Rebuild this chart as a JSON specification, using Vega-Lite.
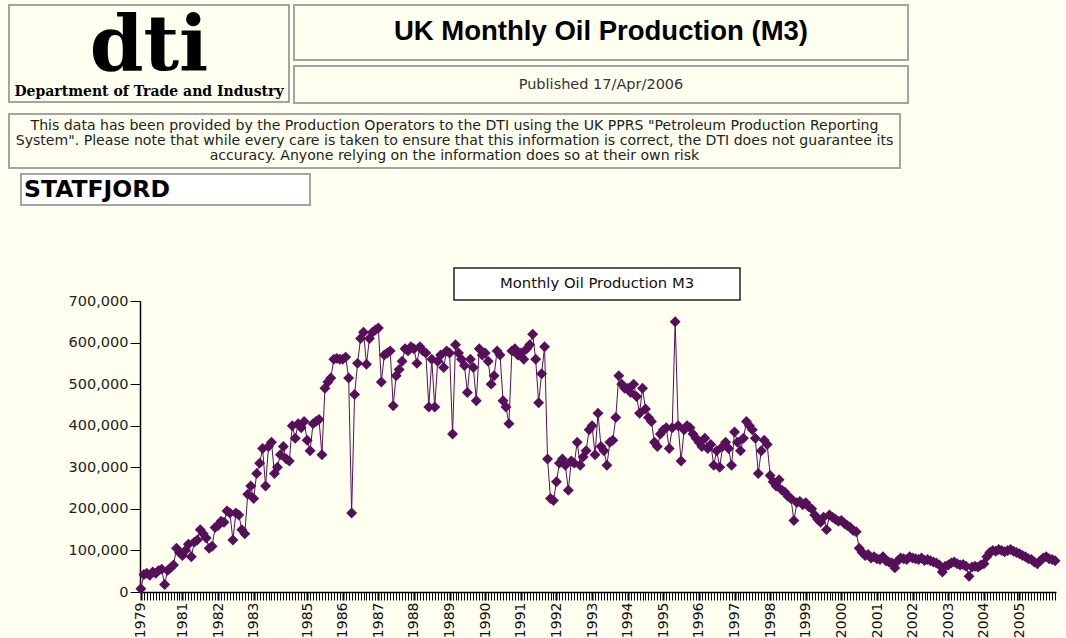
{
  "$schema": "https://vega.github.io/schema/vega-lite/v6.json",
  "background": "#FFFFF0",
  "padding": {"left": 8, "top": 4, "right": 0, "bottom": 0},
  "config": {"view": {"stroke": null}, "font": "DejaVu Sans"},
  "spacing": 0,
  "vconcat": [
    {
      "spacing": 0,
      "hconcat": [
        {
          "width": 280, "height": 97,
          "data": {"values": [{"logo": "dti", "dept": "Department of Trade and Industry"}]},
          "view": {"stroke": "#A4A4A4", "strokeWidth": 2},
          "layer": [
            {"mark": {"type": "text", "font": "DejaVu Serif", "fontWeight": "bold", "fontSize": 77, "baseline": "alphabetic", "dy": 16, "color": "#000000"}, "encoding": {"text": {"field": "logo"}}},
            {"mark": {"type": "text", "font": "DejaVu Serif", "fontWeight": "bold", "fontSize": 14, "baseline": "alphabetic", "dy": 42, "color": "#000000"}, "encoding": {"text": {"field": "dept"}}}
          ]
        },
        {"width": 3, "height": 97, "data": {"values": []}, "mark": "point"},
        {
          "spacing": 0,
          "vconcat": [
            {
              "width": 614, "height": 55,
              "data": {"values": [{"t": "UK Monthly Oil Production (M3)"}]},
              "view": {"stroke": "#A4A4A4", "strokeWidth": 2},
              "mark": {"type": "text", "font": "Liberation Sans", "fontWeight": "bold", "fontSize": 27.5, "baseline": "middle", "color": "#000000", "dy": -1},
              "encoding": {"text": {"field": "t"}}
            },
            {"width": 614, "height": 4, "data": {"values": []}, "mark": "point"},
            {
              "width": 614, "height": 37,
              "data": {"values": [{"t": "Published 17/Apr/2006"}]},
              "view": {"stroke": "#A4A4A4", "strokeWidth": 2},
              "mark": {"type": "text", "font": "DejaVu Sans", "fontSize": 14.5, "baseline": "middle", "color": "#333333"},
              "encoding": {"text": {"field": "t"}}
            }
          ]
        }
      ]
    },
    {"width": 10, "height": 9, "data": {"values": []}, "mark": "point"},
    {
      "width": 891, "height": 54,
      "data": {"values": [{"t": ["This data has been provided by the Production Operators to the DTI using the UK PPRS \"Petroleum Production Reporting", "System\".  Please note that while every care is taken to ensure that this information is correct, the DTI does not guarantee its", "accuracy.  Anyone relying on the information does so at their own risk"]}]},
      "view": {"stroke": "#A4A4A4", "strokeWidth": 2},
      "mark": {"type": "text", "font": "DejaVu Sans", "fontSize": 14.1, "lineHeight": 15, "baseline": "middle", "dy": -15, "color": "#222222"},
      "encoding": {"text": {"field": "t"}}
    },
    {"width": 10, "height": 4, "data": {"values": []}, "mark": "point"},
    {
      "spacing": 0,
      "hconcat": [
        {"width": 11, "height": 31, "data": {"values": []}, "mark": "point"},
        {
          "width": 289, "height": 31,
          "data": {"values": [{"t": "STATFJORD", "pos": 0}]},
          "view": {"stroke": "#A4A4A4", "strokeWidth": 2, "fill": "#FFFFFF"},
          "mark": {"type": "text", "font": "DejaVu Sans", "fontWeight": "bold", "fontSize": 23.5, "baseline": "middle", "align": "left", "dx": 3, "color": "#000000"},
          "encoding": {
            "text": {"field": "t"},
            "x": {"field": "pos", "type": "quantitative", "scale": {"domain": [0, 1]}, "axis": null}
          }
        }
      ]
    },
    {"width": 10, "height": 61, "data": {"values": []}, "mark": "point"},
    {
      "spacing": -8,
      "vconcat": [
        {
          "spacing": 0,
          "hconcat": [
            {"width": 444, "height": 32, "data": {"values": []}, "mark": "point"},
            {
              "width": 286, "height": 32,
              "data": {"values": [{"t": "Monthly Oil Production M3"}]},
              "view": {"stroke": "#222222", "strokeWidth": 1.5, "fill": "#FFFFFF"},
              "mark": {"type": "text", "font": "DejaVu Sans", "fontSize": 14.8, "baseline": "middle", "color": "#111111"},
              "encoding": {"text": {"field": "t"}}
            }
          ]
        },
        {
          "spacing": 0,
          "hconcat": [
            {"width": 1, "height": 291, "data": {"values": []}, "mark": "point"},
            {
              "width": 916, "height": 291,
              "data": {"values": [
                {"m": "1979-11", "v": 8000}, {"m": "1979-12", "v": 42000},
                {"m": "1980-01", "v": 45000}, {"m": "1980-02", "v": 40000}, {"m": "1980-03", "v": 48000}, {"m": "1980-04", "v": 45000}, {"m": "1980-05", "v": 52000}, {"m": "1980-06", "v": 55000}, {"m": "1980-07", "v": 18000}, {"m": "1980-08", "v": 52000}, {"m": "1980-09", "v": 58000}, {"m": "1980-10", "v": 65000}, {"m": "1980-11", "v": 105000}, {"m": "1980-12", "v": 95000},
                {"m": "1981-01", "v": 88000}, {"m": "1981-02", "v": 100000}, {"m": "1981-03", "v": 115000}, {"m": "1981-04", "v": 85000}, {"m": "1981-05", "v": 120000}, {"m": "1981-06", "v": 125000}, {"m": "1981-07", "v": 150000}, {"m": "1981-08", "v": 140000}, {"m": "1981-09", "v": 130000}, {"m": "1981-10", "v": 105000}, {"m": "1981-11", "v": 110000}, {"m": "1981-12", "v": 155000},
                {"m": "1982-01", "v": 160000}, {"m": "1982-02", "v": 170000}, {"m": "1982-03", "v": 168000}, {"m": "1982-04", "v": 195000}, {"m": "1982-05", "v": 190000}, {"m": "1982-06", "v": 125000}, {"m": "1982-07", "v": 190000}, {"m": "1982-08", "v": 185000}, {"m": "1982-09", "v": 150000}, {"m": "1982-10", "v": 140000}, {"m": "1982-11", "v": 235000}, {"m": "1982-12", "v": 255000},
                {"m": "1983-01", "v": 225000}, {"m": "1983-02", "v": 285000}, {"m": "1983-03", "v": 310000}, {"m": "1983-04", "v": 345000}, {"m": "1983-05", "v": 255000}, {"m": "1983-06", "v": 350000}, {"m": "1983-07", "v": 360000}, {"m": "1983-08", "v": 285000}, {"m": "1983-09", "v": 300000}, {"m": "1983-10", "v": 330000}, {"m": "1983-11", "v": 350000}, {"m": "1983-12", "v": 320000},
                {"m": "1984-07", "v": 315000}, {"m": "1984-08", "v": 400000}, {"m": "1984-09", "v": 370000}, {"m": "1984-10", "v": 405000}, {"m": "1984-11", "v": 395000}, {"m": "1984-12", "v": 410000},
                {"m": "1985-01", "v": 365000}, {"m": "1985-02", "v": 340000}, {"m": "1985-03", "v": 405000}, {"m": "1985-04", "v": 410000}, {"m": "1985-05", "v": 415000}, {"m": "1985-06", "v": 330000}, {"m": "1985-07", "v": 490000}, {"m": "1985-08", "v": 505000}, {"m": "1985-09", "v": 515000}, {"m": "1985-10", "v": 560000}, {"m": "1985-11", "v": 562000}, {"m": "1985-12", "v": 560000},
                {"m": "1986-01", "v": 560000}, {"m": "1986-02", "v": 565000}, {"m": "1986-03", "v": 515000}, {"m": "1986-04", "v": 190000}, {"m": "1986-05", "v": 475000}, {"m": "1986-06", "v": 550000}, {"m": "1986-07", "v": 610000}, {"m": "1986-08", "v": 625000}, {"m": "1986-09", "v": 548000}, {"m": "1986-10", "v": 610000}, {"m": "1986-11", "v": 625000}, {"m": "1986-12", "v": 630000},
                {"m": "1987-01", "v": 635000}, {"m": "1987-02", "v": 505000}, {"m": "1987-03", "v": 570000}, {"m": "1987-04", "v": 575000}, {"m": "1987-05", "v": 580000}, {"m": "1987-06", "v": 448000}, {"m": "1987-07", "v": 520000}, {"m": "1987-08", "v": 535000}, {"m": "1987-09", "v": 555000}, {"m": "1987-10", "v": 585000}, {"m": "1987-11", "v": 580000}, {"m": "1987-12", "v": 590000},
                {"m": "1988-01", "v": 585000}, {"m": "1988-02", "v": 550000}, {"m": "1988-03", "v": 590000}, {"m": "1988-04", "v": 580000}, {"m": "1988-05", "v": 575000}, {"m": "1988-06", "v": 445000}, {"m": "1988-07", "v": 560000}, {"m": "1988-08", "v": 445000}, {"m": "1988-09", "v": 555000}, {"m": "1988-10", "v": 570000}, {"m": "1988-11", "v": 540000}, {"m": "1988-12", "v": 580000},
                {"m": "1989-01", "v": 575000}, {"m": "1989-02", "v": 380000}, {"m": "1989-03", "v": 595000}, {"m": "1989-04", "v": 575000}, {"m": "1989-05", "v": 560000}, {"m": "1989-06", "v": 545000}, {"m": "1989-07", "v": 480000}, {"m": "1989-08", "v": 560000}, {"m": "1989-09", "v": 540000}, {"m": "1989-10", "v": 460000}, {"m": "1989-11", "v": 585000}, {"m": "1989-12", "v": 570000},
                {"m": "1990-01", "v": 575000}, {"m": "1990-02", "v": 555000}, {"m": "1990-03", "v": 500000}, {"m": "1990-04", "v": 520000}, {"m": "1990-05", "v": 580000}, {"m": "1990-06", "v": 570000}, {"m": "1990-07", "v": 460000}, {"m": "1990-08", "v": 445000}, {"m": "1990-09", "v": 405000}, {"m": "1990-10", "v": 580000}, {"m": "1990-11", "v": 585000}, {"m": "1990-12", "v": 570000},
                {"m": "1991-01", "v": 575000}, {"m": "1991-02", "v": 560000}, {"m": "1991-03", "v": 585000}, {"m": "1991-04", "v": 595000}, {"m": "1991-05", "v": 620000}, {"m": "1991-06", "v": 560000}, {"m": "1991-07", "v": 455000}, {"m": "1991-08", "v": 525000}, {"m": "1991-09", "v": 590000}, {"m": "1991-10", "v": 320000}, {"m": "1991-11", "v": 225000}, {"m": "1991-12", "v": 220000},
                {"m": "1992-01", "v": 265000}, {"m": "1992-02", "v": 310000}, {"m": "1992-03", "v": 320000}, {"m": "1992-04", "v": 305000}, {"m": "1992-05", "v": 245000}, {"m": "1992-06", "v": 315000}, {"m": "1992-07", "v": 310000}, {"m": "1992-08", "v": 360000}, {"m": "1992-09", "v": 305000}, {"m": "1992-10", "v": 325000}, {"m": "1992-11", "v": 340000}, {"m": "1992-12", "v": 390000},
                {"m": "1993-01", "v": 400000}, {"m": "1993-02", "v": 330000}, {"m": "1993-03", "v": 430000}, {"m": "1993-04", "v": 350000}, {"m": "1993-05", "v": 340000}, {"m": "1993-06", "v": 305000}, {"m": "1993-07", "v": 360000}, {"m": "1993-08", "v": 365000}, {"m": "1993-09", "v": 420000}, {"m": "1993-10", "v": 520000}, {"m": "1993-11", "v": 500000}, {"m": "1993-12", "v": 490000},
                {"m": "1994-01", "v": 490000}, {"m": "1994-02", "v": 480000}, {"m": "1994-03", "v": 500000}, {"m": "1994-04", "v": 470000}, {"m": "1994-05", "v": 430000}, {"m": "1994-06", "v": 490000}, {"m": "1994-07", "v": 440000}, {"m": "1994-08", "v": 420000}, {"m": "1994-09", "v": 410000}, {"m": "1994-10", "v": 360000}, {"m": "1994-11", "v": 350000}, {"m": "1994-12", "v": 380000},
                {"m": "1995-01", "v": 390000}, {"m": "1995-02", "v": 395000}, {"m": "1995-03", "v": 345000}, {"m": "1995-04", "v": 395000}, {"m": "1995-05", "v": 650000}, {"m": "1995-06", "v": 400000}, {"m": "1995-07", "v": 315000}, {"m": "1995-08", "v": 390000}, {"m": "1995-09", "v": 400000}, {"m": "1995-10", "v": 395000}, {"m": "1995-11", "v": 380000}, {"m": "1995-12", "v": 370000},
                {"m": "1996-01", "v": 360000}, {"m": "1996-02", "v": 350000}, {"m": "1996-03", "v": 370000}, {"m": "1996-04", "v": 345000}, {"m": "1996-05", "v": 355000}, {"m": "1996-06", "v": 305000}, {"m": "1996-07", "v": 340000}, {"m": "1996-08", "v": 300000}, {"m": "1996-09", "v": 350000}, {"m": "1996-10", "v": 360000}, {"m": "1996-11", "v": 345000}, {"m": "1996-12", "v": 305000},
                {"m": "1997-01", "v": 385000}, {"m": "1997-02", "v": 360000}, {"m": "1997-03", "v": 340000}, {"m": "1997-04", "v": 370000}, {"m": "1997-05", "v": 410000}, {"m": "1997-06", "v": 400000}, {"m": "1997-07", "v": 390000}, {"m": "1997-08", "v": 370000}, {"m": "1997-09", "v": 285000}, {"m": "1997-10", "v": 340000}, {"m": "1997-11", "v": 365000}, {"m": "1997-12", "v": 355000},
                {"m": "1998-01", "v": 280000}, {"m": "1998-02", "v": 265000}, {"m": "1998-03", "v": 255000}, {"m": "1998-04", "v": 270000}, {"m": "1998-05", "v": 245000}, {"m": "1998-06", "v": 240000}, {"m": "1998-07", "v": 230000}, {"m": "1998-08", "v": 225000}, {"m": "1998-09", "v": 172000}, {"m": "1998-10", "v": 215000}, {"m": "1998-11", "v": 218000}, {"m": "1998-12", "v": 210000},
                {"m": "1999-01", "v": 215000}, {"m": "1999-02", "v": 205000}, {"m": "1999-03", "v": 200000}, {"m": "1999-04", "v": 185000}, {"m": "1999-05", "v": 175000}, {"m": "1999-06", "v": 168000}, {"m": "1999-07", "v": 180000}, {"m": "1999-08", "v": 150000}, {"m": "1999-09", "v": 185000}, {"m": "1999-10", "v": 180000}, {"m": "1999-11", "v": 175000}, {"m": "1999-12", "v": 170000},
                {"m": "2000-01", "v": 172000}, {"m": "2000-02", "v": 165000}, {"m": "2000-03", "v": 160000}, {"m": "2000-04", "v": 155000}, {"m": "2000-05", "v": 148000}, {"m": "2000-06", "v": 145000}, {"m": "2000-07", "v": 105000}, {"m": "2000-08", "v": 95000}, {"m": "2000-09", "v": 88000}, {"m": "2000-10", "v": 90000}, {"m": "2000-11", "v": 82000}, {"m": "2000-12", "v": 85000},
                {"m": "2001-01", "v": 80000}, {"m": "2001-02", "v": 78000}, {"m": "2001-03", "v": 85000}, {"m": "2001-04", "v": 75000}, {"m": "2001-05", "v": 72000}, {"m": "2001-06", "v": 70000}, {"m": "2001-07", "v": 58000}, {"m": "2001-08", "v": 75000}, {"m": "2001-09", "v": 82000}, {"m": "2001-10", "v": 80000}, {"m": "2001-11", "v": 78000}, {"m": "2001-12", "v": 85000},
                {"m": "2002-01", "v": 82000}, {"m": "2002-02", "v": 80000}, {"m": "2002-03", "v": 78000}, {"m": "2002-04", "v": 82000}, {"m": "2002-05", "v": 76000}, {"m": "2002-06", "v": 78000}, {"m": "2002-07", "v": 75000}, {"m": "2002-08", "v": 72000}, {"m": "2002-09", "v": 70000}, {"m": "2002-10", "v": 65000}, {"m": "2002-11", "v": 48000}, {"m": "2002-12", "v": 62000},
                {"m": "2003-01", "v": 65000}, {"m": "2003-02", "v": 70000}, {"m": "2003-03", "v": 72000}, {"m": "2003-04", "v": 68000}, {"m": "2003-05", "v": 65000}, {"m": "2003-06", "v": 66000}, {"m": "2003-07", "v": 62000}, {"m": "2003-08", "v": 38000}, {"m": "2003-09", "v": 60000}, {"m": "2003-10", "v": 62000}, {"m": "2003-11", "v": 60000}, {"m": "2003-12", "v": 65000},
                {"m": "2004-01", "v": 68000}, {"m": "2004-02", "v": 85000}, {"m": "2004-03", "v": 95000}, {"m": "2004-04", "v": 100000}, {"m": "2004-05", "v": 98000}, {"m": "2004-06", "v": 102000}, {"m": "2004-07", "v": 100000}, {"m": "2004-08", "v": 97000}, {"m": "2004-09", "v": 100000}, {"m": "2004-10", "v": 102000}, {"m": "2004-11", "v": 98000}, {"m": "2004-12", "v": 95000},
                {"m": "2005-01", "v": 92000}, {"m": "2005-02", "v": 88000}, {"m": "2005-03", "v": 85000}, {"m": "2005-04", "v": 80000}, {"m": "2005-05", "v": 78000}, {"m": "2005-06", "v": 72000}, {"m": "2005-07", "v": 68000}, {"m": "2005-08", "v": 75000}, {"m": "2005-09", "v": 82000}, {"m": "2005-10", "v": 85000}, {"m": "2005-11", "v": 80000}, {"m": "2005-12", "v": 78000},
                {"m": "2006-01", "v": 75000}
              ]},
              "encoding": {
                "x": {
                  "field": "m", "type": "ordinal", "sort": null,
                  "scale": {"type": "point", "padding": 0.3},
                  "axis": {
                    "title": null,
                    "labelAngle": 270,
                    "labelOverlap": false,
                    "labelExpr": "(datum.value == '1979-11' || (slice(datum.value, 5, 7) == '01' && datum.value != '1980-01' && datum.value != '2006-01')) ? slice(datum.value, 0, 4) : ''",
                    "labelFont": "DejaVu Sans",
                    "labelFontSize": 14,
                    "labelColor": "#111111",
                    "labelPadding": 2,
                    "tickSize": 8,
                    "tickColor": "#000000",
                    "tickWidth": {"condition": {"test": "datum.value == '1979-11' || (slice(datum.value, 5, 7) == '01' && datum.value != '1980-01' && datum.value != '2006-01')", "value": 2}, "value": 1},
                    "domainColor": "#000000",
                    "domainWidth": 1.5,
                    "grid": false
                  }
                },
                "y": {
                  "field": "v", "type": "quantitative",
                  "scale": {"domain": [0, 700000], "nice": false},
                  "axis": {
                    "title": null,
                    "values": [0, 100000, 200000, 300000, 400000, 500000, 600000, 700000],
                    "format": ",d",
                    "labelFont": "DejaVu Sans",
                    "labelFontSize": 14.5,
                    "labelColor": "#222222",
                    "labelPadding": 2,
                    "tickSize": 10,
                    "tickColor": "#000000",
                    "domainColor": "#000000",
                    "domainWidth": 1.5,
                    "grid": false,
                    "minExtent": 130,
                    "maxExtent": 130
                  }
                }
              },
              "layer": [
                {"mark": {"type": "line", "color": "#56105A", "strokeWidth": 1}, "encoding": {}},
                {"mark": {"type": "point", "shape": "diamond", "filled": true, "size": 120, "opacity": 1, "color": "#56105A"}, "encoding": {}}
              ]
            }
          ]
        }
      ]
    }
  ]
}
